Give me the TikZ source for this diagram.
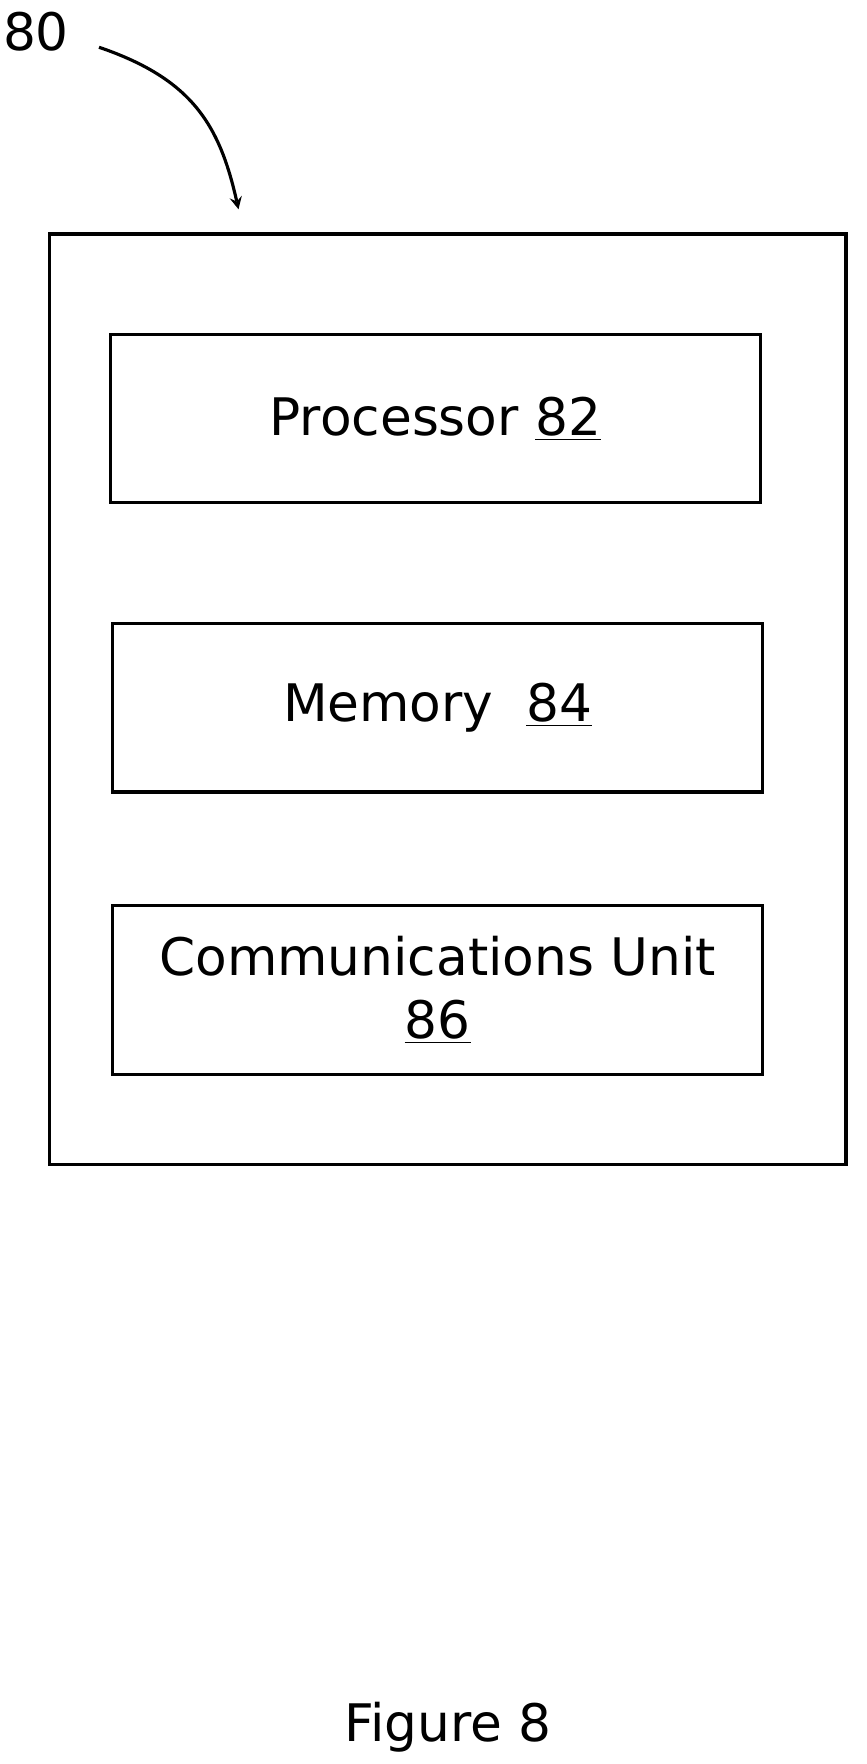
\documentclass[tikz,border=0pt]{standalone}
\usepackage{fontspec}
\setmainfont{DejaVu Sans}
\usetikzlibrary{positioning}
\tikzset{
  unitbox/.style={draw,line width=1.4pt,minimum width=289pt,minimum height=75pt,align=center,
    font=\fontsize{23}{30}\selectfont},
}
\begin{document}
\begin{tikzpicture}[x=0.5pt,y=-0.5pt]
        \useasboundingbox (0,0) rectangle (770,1568);
        % outer device
        \draw[line width=1.4pt] (44,208) rectangle (752,1035);
        \path
        (387,372) node[unitbox](proc) {Processor \underline{82}}
        (389,629) node[unitbox](mem) {Memory\ \ \underline{84}}
        (389,880) node[unitbox](comm) {Communications Unit\\[-2pt]\underline{86}}
        (32,28) node[font=\fontsize{23}{28}\selectfont](lbl) {80}
        (398,1535) node[font=\fontsize{23}{28}\selectfont](fig) {Figure 8}
        ;
        \coordinate (tip) at (212,186);
        \draw[line width=1.4pt,-stealth] (88,42) .. controls (170,70) and (195,110) .. (tip);
      \end{tikzpicture}
\end{document}
